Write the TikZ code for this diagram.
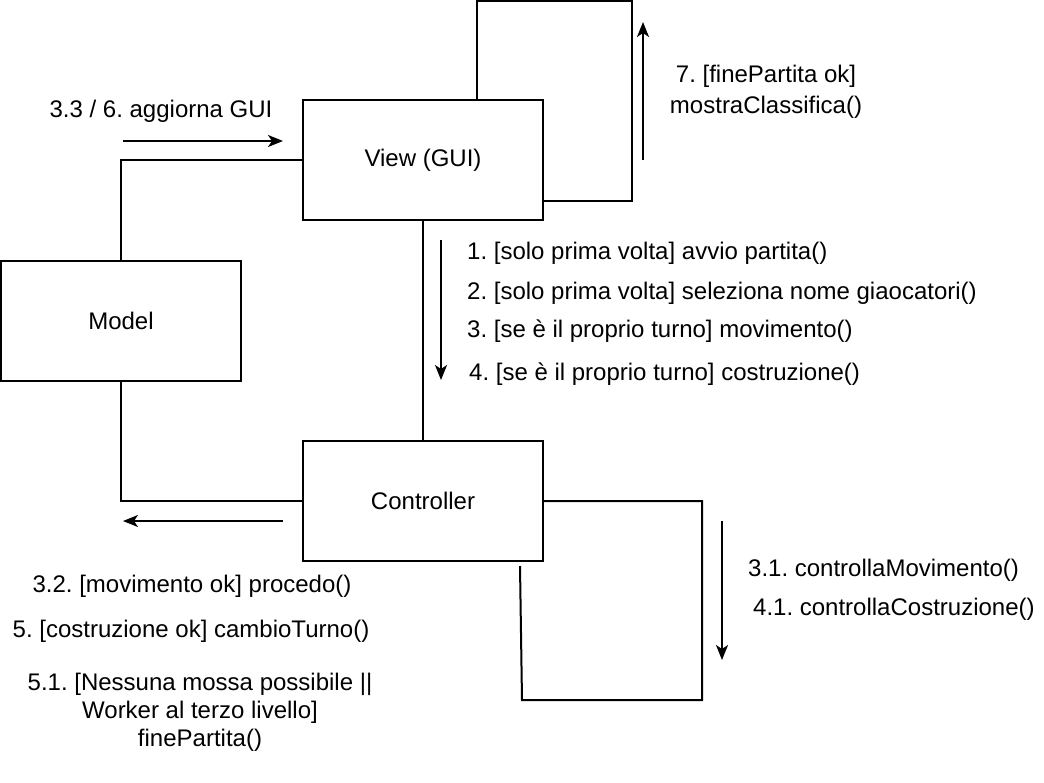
\documentclass[tikz,border=0pt]{standalone}
\usepackage{fontspec}
\setmainfont{Liberation Sans}
\usetikzlibrary{arrows.meta}
\begin{document}
\frenchspacing
\begin{tikzpicture}[x=1pt,y=-1pt,
  font=\fontsize{24}{28}\selectfont,
  box/.style={draw, line width=2pt, minimum width=240pt, minimum height=120pt, inner sep=0pt},
  conn/.style={line width=2pt},
  msg/.style={line width=2pt, -{Stealth[length=15pt,width=12pt,inset=4pt]}},
  lbl/.style={inner sep=0pt}]
\useasboundingbox (0,0) rectangle (1044,782);

% boxes
\node[box] (view) at (423,160) {View (GUI)};
\node[box] (model) at (121,321) {Model};
\node[box] (ctrl) at (423,501) {Controller};

% connectors
\draw[conn] (model.north) |- (view.west);
\draw[conn] (model.south) |- (ctrl.west);
\draw[conn] (view.south) -- (ctrl.north);

\coordinate (va) at (477,100);
\coordinate (vb) at (477,1);
\coordinate (vc) at (632,1);
\coordinate (vd) at (632,201);
\coordinate (ve) at (543,201);
\draw[conn] (va) -- (vb) -- (vc) -- (vd) -- (ve);

\coordinate (ca) at (702,501);
\coordinate (cb) at (702,700);
\coordinate (cc) at (522,700);
\coordinate (cd) at (520,566);
\draw[conn] (ctrl.east) -- (ca) -- (cb) -- (cc) -- (cd);

% message arrows
\coordinate (a7s) at (643,160);  \coordinate (a7e) at (643,22);
\coordinate (a33s) at (123,141); \coordinate (a33e) at (283,141);
\coordinate (a1s) at (441,240);  \coordinate (a1e) at (441,380);
\coordinate (a32s) at (283,521); \coordinate (a32e) at (123,521);
\coordinate (a31s) at (722,521); \coordinate (a31e) at (722,660);
\draw[msg] (a7s) -- (a7e);
\draw[msg] (a33s) -- (a33e);
\draw[msg] (a1s) -- (a1e);
\draw[msg] (a32s) -- (a32e);
\draw[msg] (a31s) -- (a31e);

% labels
\node[lbl, anchor=base] (l33) at (161,117) {3.3 / 6. aggiorna GUI};
\node[lbl, align=center, font=\fontsize{24}{31}\selectfont] (l7) at (766,92) {7. [finePartita ok]\\mostraClassifica()};
\node[lbl, anchor=base west] (l1) at (467,259) {1. [solo prima volta] avvio partita()};
\node[lbl, anchor=base west] (l2) at (467,299) {2. [solo prima volta] seleziona nome giaocatori()};
\node[lbl, anchor=base west] (l3) at (467,337) {3. [se è il proprio turno] movimento()};
\node[lbl, anchor=base west] (l4) at (469,380) {4. [se è il proprio turno] costruzione()};
\node[lbl, anchor=base west] (l31) at (748,576) {3.1. controllaMovimento()};
\node[lbl, anchor=base west] (l41) at (753,615) {4.1. controllaCostruzione()};
\node[lbl, anchor=base] (l32) at (192,592) {3.2. [movimento ok] procedo()};
\node[lbl, anchor=base] (l5) at (191,637) {5. [costruzione ok] cambioTurno()};
\node[lbl, align=center] (l51) at (200,712) {5.1. [Nessuna mossa possibile ||\\Worker al terzo livello]\\finePartita()};
\end{tikzpicture}
\end{document}
